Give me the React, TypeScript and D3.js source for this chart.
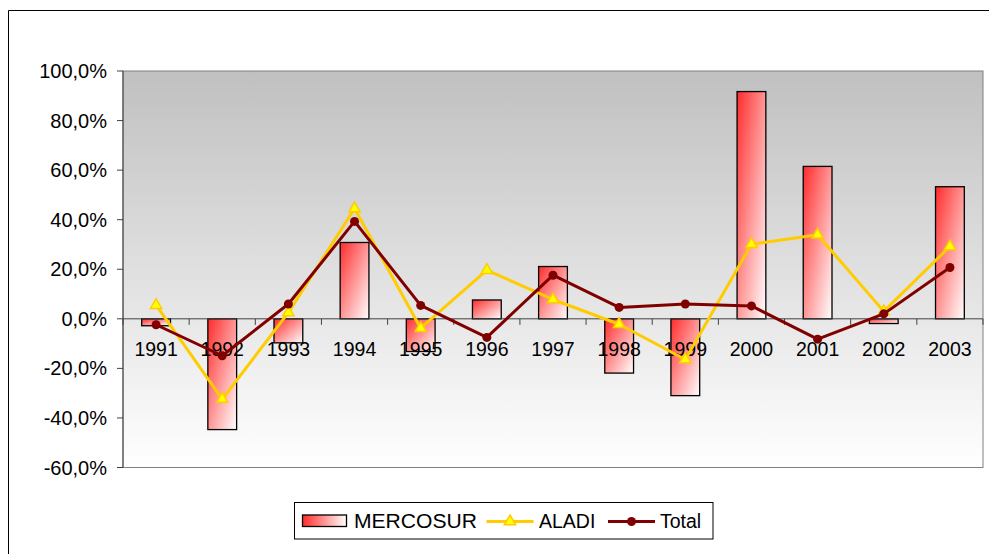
import React from "react";
import * as d3 from "d3";

const years = ["1991","1992","1993","1994","1995","1996","1997","1998","1999","2000","2001","2002","2003"];
const mercosur = [-2.8, -44.7, -9.7, 30.8, -13.2, 7.6, 21.1, -21.9, -31.0, 91.7, 61.5, -1.9, 53.3];
const aladi = [5.5, -32.4, 2.5, 44.5, -3.8, 19.6, 7.8, -2.2, -16.4, 30.1, 33.9, 3.0, 29.2];
const total = [-2.4, -14.9, 6.0, 39.3, 5.4, -7.5, 17.6, 4.6, 6.0, 5.2, -8.2, 2.0, 20.7];
const yTicks = [-60, -40, -20, 0, 20, 40, 60, 80, 100];
const seriesNames = ["MERCOSUR", "ALADI", "Total"];

const W = 989, H = 554;
const plot = { left: 123, right: 983, top: 71, bottom: 467.5 };
const FONT = "'Liberation Sans', Arial, Helvetica, sans-serif";
const FS = 19.5;

const fmt = (v: number) => v.toFixed(1).replace(".", ",") + "%";

export default function App() {
  const x = d3.scaleBand<string>()
    .domain(years)
    .range([plot.left, plot.right])
    .paddingInner(0.565)
    .paddingOuter(0.2826);
  const y = d3.scaleLinear().domain([-60, 100]).range([plot.bottom, plot.top]);
  const bw = x.bandwidth();
  const step = x.step();
  const cx = (d: string) => (x(d) as number) + bw / 2;
  const y0 = y(0);

  const line = d3.line<number>()
    .x((_, i) => cx(years[i]))
    .y((v) => y(v));

  const tri = d3.symbol().type(d3.symbolTriangle).size(55)();

  const boundaries = d3.range(years.length + 1).map((i) => plot.left + i * step);

  return (
    <svg width={W} height={H} style={{ position: "absolute", left: 0, top: 0, background: "#fff" }}>
      <defs>
        <linearGradient id="plotBg" x1="0" y1="0" x2="0" y2="1">
          <stop offset="0" stopColor="#c0c0c0" />
          <stop offset="1" stopColor="#ffffff" />
        </linearGradient>
        <linearGradient id="barGrad" x1="0" y1="0" x2="1" y2="1">
          <stop offset="0" stopColor="#ff2b2b" />
          <stop offset="1" stopColor="#ffffff" />
        </linearGradient>
        <linearGradient id="legGrad" x1="0" y1="0" x2="1" y2="0">
          <stop offset="0" stopColor="#ff2b2b" />
          <stop offset="1" stopColor="#ffffff" />
        </linearGradient>
      </defs>

      {/* outer chart border */}
      <line x1={8.5} y1={10.5} x2={W} y2={10.5} stroke="#000" strokeWidth={1} />
      <line x1={8.5} y1={10.5} x2={8.5} y2={H} stroke="#000" strokeWidth={1} />

      {/* plot area */}
      <rect x={plot.left} y={plot.top} width={plot.right - plot.left} height={plot.bottom - plot.top}
        fill="url(#plotBg)" stroke="#808080" strokeWidth={1} />

      {/* y axis */}
      <line x1={plot.left} y1={plot.top} x2={plot.left} y2={plot.bottom} stroke="#404040" strokeWidth={1} />
      {yTicks.map((t) => (
        <g key={t}>
          <line x1={plot.left - 6} x2={plot.left} y1={y(t)} y2={y(t)} stroke="#404040" />
          <text x={107} y={y(t) + 7} textAnchor="end" fontFamily={FONT} fontSize={FS + 0.5} fill="#000">{fmt(t)}</text>
        </g>
      ))}

      {/* bars */}
      {years.map((d, i) => {
        const v = mercosur[i];
        const top = Math.min(y(v), y0);
        const h = Math.abs(y(v) - y0);
        return (
          <rect key={d} x={x(d)} y={top} width={bw} height={h}
            fill="url(#barGrad)" stroke="#000" strokeWidth={1.3} />
        );
      })}

      {/* zero axis */}
      <line x1={plot.left} x2={plot.right} y1={y0} y2={y0} stroke="#404040" strokeWidth={1} />
      {boundaries.map((b, i) => (
        <line key={i} x1={b} x2={b} y1={y0} y2={y0 + 6} stroke="#404040" />
      ))}

      {/* x labels */}
      {years.map((d) => (
        <text key={d} x={cx(d)} y={y0 + 37} textAnchor="middle" fontFamily={FONT} fontSize={FS} fill="#000">{d}</text>
      ))}

      {/* ALADI line */}
      <path d={line(aladi) as string} fill="none" stroke="#ffcc00" strokeWidth={3} strokeLinejoin="round" />
      {aladi.map((v, i) => (
        <path key={i} d={tri as string} transform={`translate(${cx(years[i])},${y(v)})`}
          fill="#ffff00" stroke="#ffcc00" strokeWidth={1.5} />
      ))}

      {/* Total line */}
      <path d={line(total) as string} fill="none" stroke="#800000" strokeWidth={3} strokeLinejoin="round" />
      {total.map((v, i) => (
        <circle key={i} cx={cx(years[i])} cy={y(v)} r={4.5} fill="#800000" />
      ))}

      {/* legend */}
      <g>
        <rect x={294.5} y={502.5} width={418.5} height={36.5} fill="#fff" stroke="#000" strokeWidth={1} />
        <rect x={302.5} y={515} width={44} height={11.5} fill="url(#legGrad)" stroke="#000" strokeWidth={1.3} />
        <text x={354} y={527.5} fontFamily={FONT} fontSize={FS} fill="#000" textLength={123} lengthAdjust="spacingAndGlyphs">{seriesNames[0]}</text>
        <line x1={486.5} x2={533.5} y1={521.5} y2={521.5} stroke="#ffcc00" strokeWidth={3} />
        <path d={tri as string} transform="translate(510,521.5)" fill="#ffff00" stroke="#ffcc00" strokeWidth={1.5} />
        <text x={539} y={527.5} fontFamily={FONT} fontSize={FS} fill="#000">{seriesNames[1]}</text>
        <line x1={608} x2={655} y1={521.5} y2={521.5} stroke="#800000" strokeWidth={3} />
        <circle cx={631.5} cy={521.5} r={4.5} fill="#800000" />
        <text x={660} y={527.5} fontFamily={FONT} fontSize={FS} fill="#000">{seriesNames[2]}</text>
      </g>
    </svg>
  );
}
